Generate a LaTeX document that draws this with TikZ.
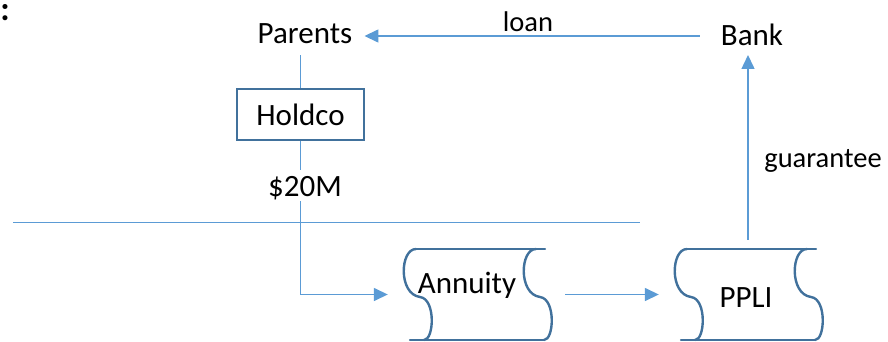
\documentclass[tikz,border=0pt]{standalone}
\usepackage{fontspec}
\setmainfont{Carlito}
\usetikzlibrary{arrows.meta}
\definecolor{lineblue}{HTML}{5B9BD5}
\definecolor{boxblue}{HTML}{41719C}
\begin{document}
\begin{tikzpicture}[x=1pt,y=-1pt,
  conn/.style={draw=lineblue,line width=1.5pt},
  arr/.style={conn,-{Triangle[length=14pt,width=13pt]}},
  lbl/.style={anchor=base,inner sep=0pt,font=\fontsize{31}{37}\selectfont},
  small/.style={anchor=base,inner sep=0pt,font=\fontsize{28.5}{34}\selectfont},
  tapeline/.style={draw=boxblue,line width=2.4pt,line cap=round},
  tapebox/.style={minimum width=150pt,minimum height=91pt,inner sep=0pt},
  tape/.pic={
    \draw[tapeline] (-1,0) -- (129,0);
    \draw[tapeline] (-6,91) -- (128,91);
    \draw[tapeline] (0,0) .. controls (-16,0) and (-18,45) .. (4,48)
                          .. controls (20,50) and (18,91) .. (8,91);
    \draw[tapeline] (120,0) .. controls (104,0) and (102,45) .. (124,48)
                          .. controls (140,50) and (138,91) .. (128,91);
  }]
\useasboundingbox (0,0) rectangle (888,342);

% texts
\node[lbl,font=\fontsize{34}{40}\selectfont\bfseries] (colon) at (5,20.5) {:};
\node[lbl] (par) at (305,44) {Parents};
\node[lbl] (bank) at (752,46) {Bank};
\node[small] (loan) at (528,32) {loan};
\node[small] (guar) at (823,167) {guarantee};
\node[lbl] (m20) at (305,196) {\$20M};

% Holdco box
\node[draw=boxblue,line width=2.6pt,minimum width=127pt,minimum height=51pt,
      inner sep=0pt,font=\fontsize{31}{37}\selectfont] (hold) at (300.5,114.5) {Holdco};

% tapes
\node[tapebox] (ann) at (477,294.5) {};
\pic at (416,249) {tape};
\node[lbl] (annt) at (467,293) {Annuity};
\node[tapebox] (ppli) at (748,294.5) {};
\pic at (687,249) {tape};
\node[lbl] (pplit) at (746,307) {PPLI};

% connectors
\draw[conn] (hold.north) -- ([yshift=-11pt]par.base -| hold.north);
\draw[conn] (hold.south) -- ([yshift=26pt]m20.base -| hold.south);
\draw[arr] ([yshift=-5pt]m20.base -| hold.south) |- ([xshift=-14pt]ann.west);
\draw[arr] ([xshift=13pt]ann.east) -- ([xshift=-14pt]ppli.west);
\draw[arr] ([yshift=9pt]ppli.north) -- ([yshift=-9pt]bank.base -| ppli.north);
\coordinate (pe) at ([xshift=12pt]par.base east);
\coordinate (bl) at ([xshift=-21pt,yshift=10pt]bank.base west);
\draw[arr] (bl) -- (bl -| pe);

% horizontal divider
\coordinate (h1) at (13,222.5);
\coordinate (h2) at (640,222.5);
\draw[conn] (h1) -- (h2);
\end{tikzpicture}
\end{document}
